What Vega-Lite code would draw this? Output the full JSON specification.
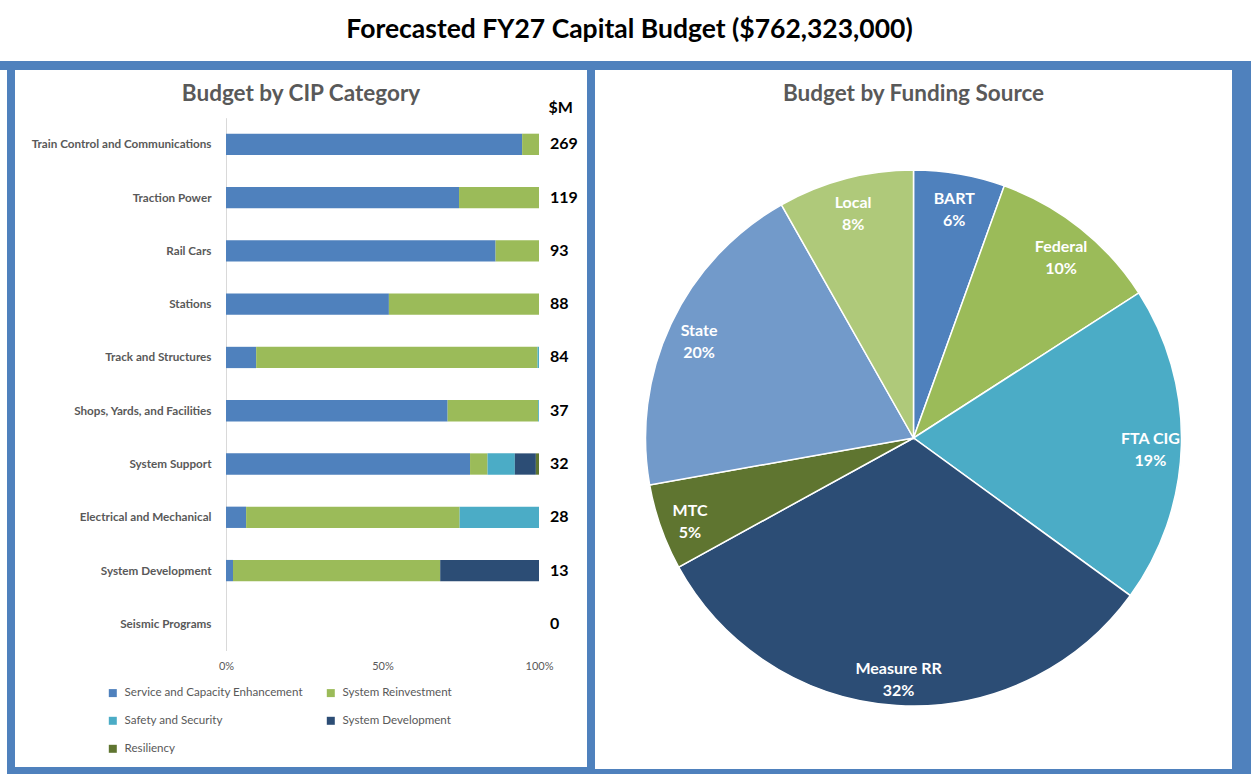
{
  "$schema": "https://vega.github.io/schema/vega-lite/v6.json",
  "background": "#4F81BD",
  "padding": 0,
  "spacing": 9,
  "config": {
    "view": {"fill": "white", "stroke": null},
    "font": "Lato",
    "title": {"fontSize": 22.5, "fontWeight": "bold", "color": "#595959", "anchor": "middle", "frame": "group", "offset": -35}
  },
  "vconcat": [
    {
      "width": 1251,
      "height": 61,
      "data": {"values": [{"t": "Forecasted FY27 Capital Budget ($762,323,000)"}]},
      "layer": [
        {"mark": {"type": "rect", "color": "white"}, "encoding": {}},
        {
          "mark": {"type": "text", "fontSize": 26.5, "fontWeight": "bold", "color": "black", "align": "center", "baseline": "middle", "dx": 4, "dy": -1},
          "encoding": {"text": {"field": "t", "type": "nominal"}}
        }
      ]
    },
    {
      "spacing": 8,
      "resolve": {"scale": {"color": "independent"}, "legend": {"color": "independent"}},
      "hconcat": [
        {
          "width": 7,
          "height": 704,
          "data": {"values": [{"s": "strip"}]},
          "mark": {"type": "rect", "color": "white"},
          "encoding": {}
        },
        {
          "width": 572,
          "height": 697,
          "title": {"text": "Budget by CIP Category"},
          "layer": [
            {
              "data": {"values": [
                {"category": "Train Control and Communications", "type": "Service and Capacity Enhancement", "amount": 254.5},
                {"category": "Train Control and Communications", "type": "System Reinvestment", "amount": 14.5},
                {"category": "Traction Power", "type": "Service and Capacity Enhancement", "amount": 88.6},
                {"category": "Traction Power", "type": "System Reinvestment", "amount": 30.4},
                {"category": "Rail Cars", "type": "Service and Capacity Enhancement", "amount": 80.1},
                {"category": "Rail Cars", "type": "System Reinvestment", "amount": 12.9},
                {"category": "Stations", "type": "Service and Capacity Enhancement", "amount": 45.8},
                {"category": "Stations", "type": "System Reinvestment", "amount": 42.2},
                {"category": "Track and Structures", "type": "Service and Capacity Enhancement", "amount": 8.1},
                {"category": "Track and Structures", "type": "System Reinvestment", "amount": 75.5},
                {"category": "Track and Structures", "type": "Safety and Security", "amount": 0.4},
                {"category": "Shops, Yards, and Facilities", "type": "Service and Capacity Enhancement", "amount": 26.2},
                {"category": "Shops, Yards, and Facilities", "type": "System Reinvestment", "amount": 10.7},
                {"category": "Shops, Yards, and Facilities", "type": "Safety and Security", "amount": 0.1},
                {"category": "System Support", "type": "Service and Capacity Enhancement", "amount": 24.95},
                {"category": "System Support", "type": "System Reinvestment", "amount": 1.79},
                {"category": "System Support", "type": "Safety and Security", "amount": 2.79},
                {"category": "System Support", "type": "System Development", "amount": 2.15},
                {"category": "System Support", "type": "Resiliency", "amount": 0.32},
                {"category": "Electrical and Mechanical", "type": "Service and Capacity Enhancement", "amount": 1.8},
                {"category": "Electrical and Mechanical", "type": "System Reinvestment", "amount": 19.1},
                {"category": "Electrical and Mechanical", "type": "Safety and Security", "amount": 7.1},
                {"category": "System Development", "type": "Service and Capacity Enhancement", "amount": 0.29},
                {"category": "System Development", "type": "System Reinvestment", "amount": 8.6},
                {"category": "System Development", "type": "System Development", "amount": 4.1}
              ]},
              "transform": [{"window": [{"op": "row_number", "as": "idx"}]}],
              "mark": {"type": "bar"},
              "encoding": {
                "y": {
                  "field": "category",
                  "type": "nominal",
                  "scale": {
                    "domain": ["Train Control and Communications", "Traction Power", "Rail Cars", "Stations", "Track and Structures", "Shops, Yards, and Facilities", "System Support", "Electrical and Mechanical", "System Development", "Seismic Programs"],
                    "range": [47.7, 580.5],
                    "paddingInner": 0.6,
                    "paddingOuter": 0.3
                  },
                  "axis": {
                    "title": "$M",
                    "titleAngle": 0,
                    "titleX": 322,
                    "titleY": 37,
                    "titleAlign": "left",
                    "titleBaseline": "middle",
                    "titleFontSize": 16,
                    "titleFontWeight": "bold",
                    "titleColor": "black",
                    "offset": -211,
                    "domainColor": "#D9D9D9",
                    "ticks": false,
                    "labelPadding": 15,
                    "labelFontSize": 11.7,
                    "labelFontWeight": "bold",
                    "labelColor": "#595959",
                    "labelLimit": 300
                  }
                },
                "x": {
                  "field": "amount",
                  "type": "quantitative",
                  "stack": "normalize",
                  "scale": {"domain": [0, 1], "range": [211, 524], "nice": false},
                  "axis": {
                    "orient": "bottom",
                    "offset": -117,
                    "values": [0, 0.5, 1],
                    "format": ".0%",
                    "domain": false,
                    "ticks": false,
                    "grid": false,
                    "labelPadding": 10,
                    "labelFontSize": 11,
                    "labelColor": "#595959",
                    "labelFlush": false,
                    "title": null
                  }
                },
                "color": {
                  "field": "type",
                  "type": "nominal",
                  "scale": {
                    "domain": ["Service and Capacity Enhancement", "System Reinvestment", "Safety and Security", "System Development", "Resiliency"],
                    "range": ["#4F81BD", "#9BBB59", "#4BACC6", "#2C4D75", "#5F7530"]
                  },
                  "legend": {
                    "orient": "none",
                    "legendX": 92,
                    "legendY": 617,
                    "columns": 2,
                    "direction": "horizontal",
                    "title": null,
                    "symbolType": "square",
                    "symbolSize": 64,
                    "symbolStrokeWidth": 0,
                    "labelFontSize": 11.6,
                    "labelColor": "#595959",
                    "labelOffset": 6,
                    "labelLimit": 300,
                    "columnPadding": 22,
                    "rowPadding": 15,
                    "padding": 0
                  }
                },
                "order": {"field": "idx", "type": "quantitative"}
              }
            },
            {
              "data": {"values": [
                {"category": "Train Control and Communications", "total": 269},
                {"category": "Traction Power", "total": 119},
                {"category": "Rail Cars", "total": 93},
                {"category": "Stations", "total": 88},
                {"category": "Track and Structures", "total": 84},
                {"category": "Shops, Yards, and Facilities", "total": 37},
                {"category": "System Support", "total": 32},
                {"category": "Electrical and Mechanical", "total": 28},
                {"category": "System Development", "total": 13},
                {"category": "Seismic Programs", "total": 0}
              ]},
              "mark": {"type": "text", "align": "left", "baseline": "middle", "dx": 11, "fontSize": 16, "fontWeight": "bold", "color": "black"},
              "encoding": {
                "y": {"field": "category", "type": "nominal"},
                "x": {"datum": 1},
                "text": {"field": "total", "type": "quantitative"}
              }
            }
          ]
        },
        {
          "width": 637,
          "height": 699,
          "title": {"text": "Budget by Funding Source"},
          "data": {"values": [
            {"source": "BART", "share": 5.5, "label": "BART\n6%"},
            {"source": "Federal", "share": 10.4, "label": "Federal\n10%"},
            {"source": "FTA CIG", "share": 19.1, "label": "FTA CIG\n19%"},
            {"source": "Measure RR", "share": 32.0, "label": "Measure RR\n32%"},
            {"source": "MTC", "share": 5.2, "label": "MTC\n5%"},
            {"source": "State", "share": 19.6, "label": "State\n20%"},
            {"source": "Local", "share": 8.2, "label": "Local\n8%"}
          ]},
          "transform": [{"window": [{"op": "row_number", "as": "idx"}]}],
          "layer": [
            {"mark": {"type": "rect", "color": "white"}, "encoding": {}},
            {
              "mark": {"type": "arc", "outerRadius": 268, "stroke": "white", "strokeWidth": 1.5, "yOffset": 18.5},
              "encoding": {
                "theta": {"field": "share", "type": "quantitative", "stack": true},
                "order": {"field": "idx", "type": "quantitative"},
                "color": {
                  "field": "source",
                  "type": "nominal",
                  "scale": {
                    "domain": ["BART", "Federal", "FTA CIG", "Measure RR", "MTC", "State", "Local"],
                    "range": ["#4F81BD", "#9BBB59", "#4BACC6", "#2C4D75", "#5F7530", "#729ACA", "#AFC97A"]
                  },
                  "legend": null
                }
              }
            },
            {
              "mark": {"type": "text", "radius": 237, "yOffset": 12.5, "lineBreak": "\n", "lineHeight": 22, "fontSize": 16, "fontWeight": "bold", "color": "white", "align": "center", "baseline": "middle"},
              "encoding": {
                "theta": {"field": "share", "type": "quantitative", "stack": true},
                "order": {"field": "idx", "type": "quantitative"},
                "text": {"field": "label", "type": "nominal"},
                "detail": {"field": "source", "type": "nominal"}
              }
            }
          ]
        }
      ]
    }
  ]
}
